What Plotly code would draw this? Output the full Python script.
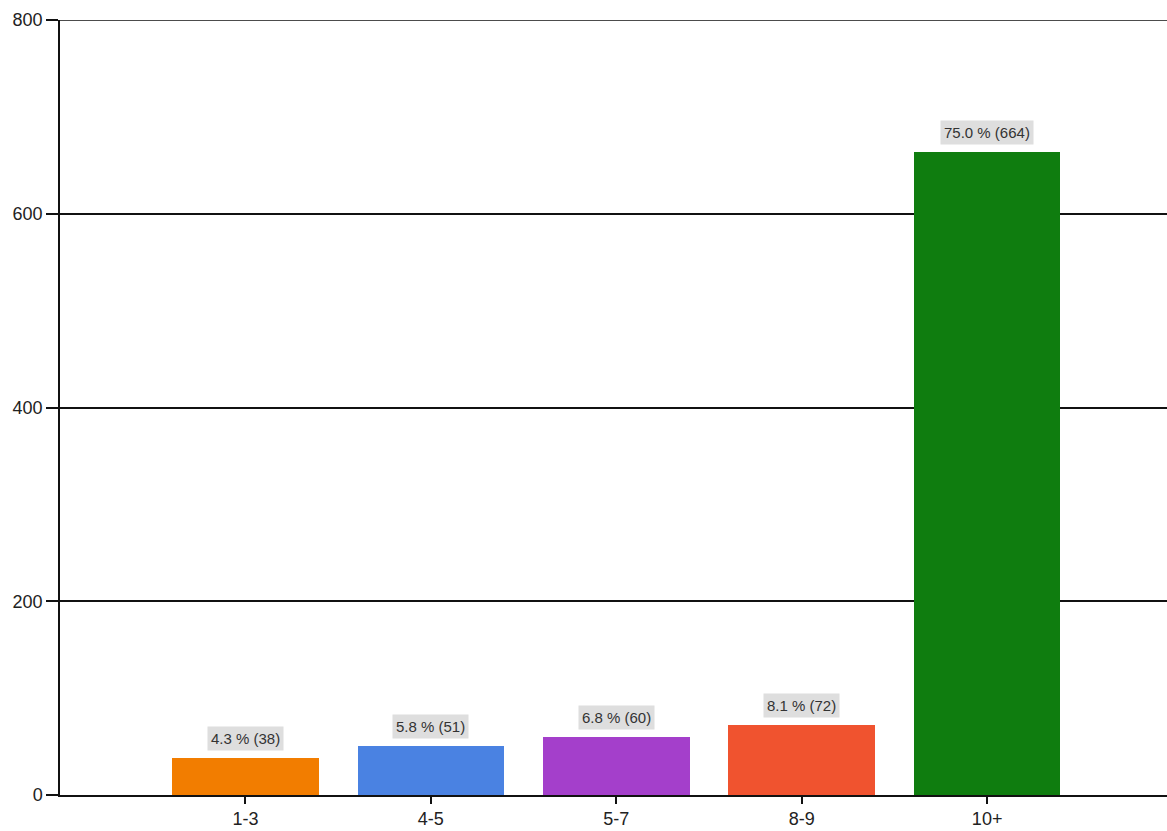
import plotly.graph_objects as go

# Answer distribution: count per bucket and its share of all responses
categories = ["1-3", "4-5", "5-7", "8-9", "10+"]
counts = [38, 51, 60, 72, 664]
shares = [4.3, 5.8, 6.8, 8.1, 75.0]
bar_colors = ["#F27D00", "#4A82E2", "#A43FCB", "#F0532F", "#0F7D0F"]
y_ticks = [0, 200, 400, 600, 800]

positions = list(range(1, len(categories) + 1))

fig = go.Figure()
fig.add_trace(go.Bar(
    x=positions,
    y=counts,
    width=0.79,
    marker=dict(color=bar_colors, line=dict(width=0)),
    hoverinfo="skip",
))

# value labels in grey boxes above each bar
for pos, cnt, pct in zip(positions, counts, shares):
    fig.add_annotation(
        x=pos, y=cnt, yanchor="bottom", yshift=7,
        text=f"{pct:.1f} % ({cnt})", showarrow=False,
        font=dict(family="Liberation Sans, Arial", size=15, color="#333333"),
        bgcolor="#DEDEDE", borderpad=3,
    )

# small tick below the left end of the category axis
fig.add_shape(type="line", xref="paper", yref="y", x0=0, x1=0,
              y0=0, y1=-7, ysizemode="pixel", yanchor=0,
              line=dict(color="#111111", width=1.5))
# grid line along the top of the value range
fig.add_shape(type="line", xref="paper", yref="y", x0=0, x1=1,
              y0=y_ticks[-1], y1=y_ticks[-1],
              line=dict(color="#111111", width=1.5))

fig.update_layout(
    width=1167, height=831,
    margin=dict(l=60, r=0, t=20, b=36),
    paper_bgcolor="white", plot_bgcolor="white",
    showlegend=False,
    bargap=0,
    font=dict(family="Liberation Sans, Arial", size=18, color="#222222"),
)
fig.update_xaxes(
    range=[0, 5.97],
    tickvals=positions, ticktext=categories,
    showline=True, linecolor="#111111", linewidth=1.5,
    ticks="outside", ticklen=7, tickwidth=1.5, tickcolor="#111111",
    showgrid=False, zeroline=False,
    tickfont=dict(size=18),
)
fig.update_yaxes(
    range=[0, 800],
    tickvals=y_ticks,
    showline=True, linecolor="#111111", linewidth=1.5,
    ticks="outside", ticklen=12, tickwidth=1.5, tickcolor="#111111",
    showgrid=True, gridcolor="#111111", gridwidth=1.5,
    zeroline=False,
    tickfont=dict(size=18),
)

fig.write_html("out.html")
